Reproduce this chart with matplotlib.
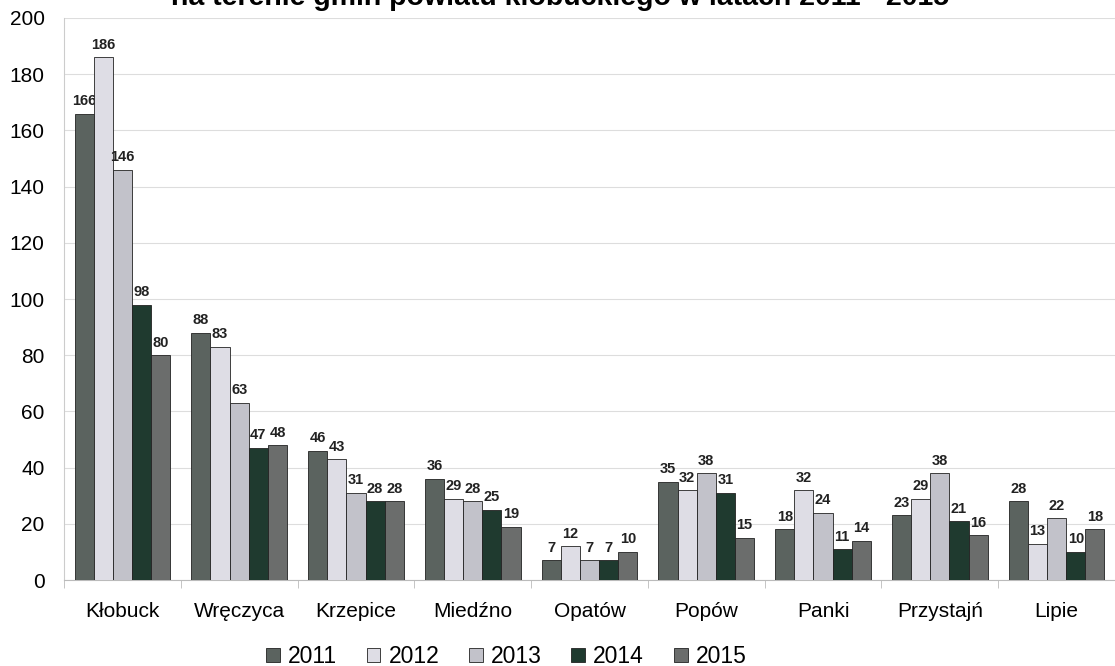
import matplotlib.pyplot as plt
import numpy as np

plt.rcParams['font.family'] = ['Liberation Sans', 'DejaVu Sans']

gminy = ["Kłobuck", "Wręczyca", "Krzepice", "Miedźno", "Opatów",
         "Popów", "Panki", "Przystajń", "Lipie"]
lata = ["2011", "2012", "2013", "2014", "2015"]
v2011 = [166, 88, 46, 36, 7, 35, 18, 23, 28]
v2012 = [186, 83, 43, 29, 12, 32, 32, 29, 13]
v2013 = [146, 63, 31, 28, 7, 38, 24, 38, 22]
v2014 = [98, 47, 28, 25, 7, 31, 11, 21, 10]
v2015 = [80, 48, 28, 19, 10, 15, 14, 16, 18]
kolory = ["#5b635f", "#dedde5", "#c2c2ca", "#1f3a2f", "#6b6d6c"]

fig = plt.figure(figsize=(11.15, 6.66), dpi=100)
ax = fig.add_axes([0.0574, 0.129, 0.9426, 0.844])

x = np.arange(len(gminy))
w = 0.164
serie = [v2011, v2012, v2013, v2014, v2015]
for i, (rok, vals) in enumerate(zip(lata, serie)):
    bars = ax.bar(x + (i - 2) * w, vals, w, color=kolory[i], edgecolor="#222222",
                  linewidth=0.6, label=rok, zorder=3)
    ax.bar_label(bars, padding=4, fontsize=10.5, fontweight="bold", color="#222222")

ax.set_xlim(-0.5, len(gminy) - 0.5)
ax.set_ylim(0, 200)
ax.set_yticks(range(0, 201, 20))
ax.tick_params(axis="y", length=0, labelsize=15, pad=14)
ax.set_xticks(x)
ax.set_xticklabels(gminy)
ax.tick_params(axis="x", length=0, labelsize=15, pad=16)
ax.set_xticks(np.arange(-0.5, len(gminy), 1), minor=True)
ax.tick_params(axis="x", which="minor", length=6, color="#bbbbbb")
ax.grid(axis="y", color="#dddddd", linewidth=0.8, zorder=0)
for s in ["top", "right"]:
    ax.spines[s].set_visible(False)
ax.spines["left"].set_color("#cccccc")
ax.spines["bottom"].set_color("#bbbbbb")

# tytuł ucięty u góry jak w oryginale
fig.text(0.502, 1.003, "na terenie gmin powiatu kłobuckiego w latach 2011 - 2015",
         ha="center", va="center", fontsize=20.5, fontweight="bold")

fig.legend(loc="center", bbox_to_anchor=(0.454, 0.014), ncol=5, frameon=False,
           fontsize=16.5, handlelength=0.6, handleheight=0.6, handletextpad=0.35,
           columnspacing=1.3)

fig.savefig("out.png", dpi=100)
